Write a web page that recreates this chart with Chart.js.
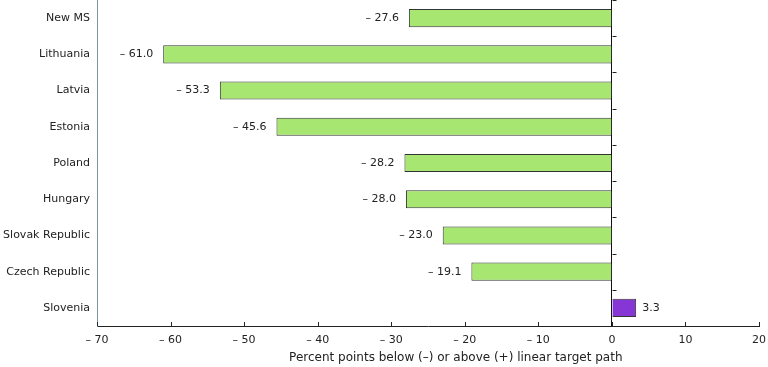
<!DOCTYPE html>
<html>
<head>
<meta charset="utf-8">
<script src="https://cdn.jsdelivr.net/npm/chart.js@4"></script>
<style>
  html, body { margin: 0; padding: 0; background: #fff; }
  #wrap { width: 768px; height: 367px; }
</style>
</head>
<body>
<div id="wrap"><canvas id="grafico"></canvas></div>
<script>
const paises = ["New MS", "Lithuania", "Latvia", "Estonia", "Poland", "Hungary", "Slovak Republic", "Czech Republic", "Slovenia"];
const valores = [-27.6, -61.0, -53.3, -45.6, -28.2, -28.0, -23.0, -19.1, 3.3];
const cores = ["#a8e672", "#a8e672", "#a8e672", "#a8e672", "#a8e672", "#a8e672", "#a8e672", "#a8e672", "#8536d4"];
const eixoMin = -70;
const eixoMax = 20;
const tituloEixo = "Percent points below (\u2013) or above (+) linear target path";

const fonte = "'DejaVu Sans', Verdana, sans-serif";

function formata(v, casas) {
    let t = Math.abs(v).toFixed(casas);
    return v < 0 ? "\u2013 " + t : t;
}

// rotulos dos valores ao lado das barras + titulo do eixo x
const rotulos = {
    id: "rotulos",
    afterDatasetsDraw(chart) {
        const ctx = chart.ctx;
        const meta = chart.getDatasetMeta(0);
        ctx.save();
        ctx.font = "11px " + fonte;
        ctx.fillStyle = "#222";
        ctx.textBaseline = "middle";
        meta.data.forEach((barra, i) => {
            const v = valores[i];
            if (v < 0) {
                ctx.textAlign = "right";
                ctx.fillText(formata(v, 1), barra.x - 10, barra.y);
            } else {
                ctx.textAlign = "left";
                ctx.fillText(formata(v, 1), barra.x + 6, barra.y);
            }
        });
        const area = chart.chartArea;
        ctx.font = "12px " + fonte;
        ctx.textAlign = "center";
        ctx.fillText(tituloEixo, area.left + (area.right - area.left) * 0.542, 358);
        ctx.restore();
    }
};

// marcas pequenas do eixo x (para cima) e da linha zero
const marcas = {
    id: "marcas",
    afterDraw(chart) {
        const ctx = chart.ctx;
        const x = chart.scales.x;
        const y = chart.scales.y;
        const area = chart.chartArea;
        ctx.save();
        ctx.strokeStyle = "#222";
        ctx.lineWidth = 1;
        ctx.beginPath();
        x.ticks.forEach(t => {
            const px = Math.round(x.getPixelForValue(t.value)) + 0.5;
            ctx.moveTo(px, area.bottom);
            ctx.lineTo(px, area.bottom - 4);
        });
        const x0 = Math.round(x.getPixelForValue(0)) + 0.5;
        for (let i = 0; i <= paises.length; i++) {
            const py = Math.round(y.getPixelForValue(i - 0.5)) + 0.5;
            ctx.moveTo(x0, py);
            ctx.lineTo(x0 + 4, py);
        }
        ctx.stroke();
        ctx.restore();
    }
};

const grafico = new Chart(document.getElementById("grafico"), {
    type: "bar",
    data: {
        labels: paises,
        datasets: [{
            data: valores,
            backgroundColor: cores,
            borderColor: "#333",
            borderWidth: 1,
            barPercentage: 0.5,
            categoryPercentage: 1.0
        }]
    },
    options: {
        indexAxis: "y",
        responsive: true,
        maintainAspectRatio: false,
        animation: false,
        layout: { padding: { top: 0, right: 9, bottom: 3, left: 0 } },
        plugins: {
            legend: { display: false },
            tooltip: { enabled: false }
        },
        scales: {
            x: {
                min: eixoMin,
                max: eixoMax,
                ticks: {
                    stepSize: 10,
                    color: "#222",
                    font: { family: fonte, size: 11 },
                    padding: 8,
                    callback: v => formata(v, 0)
                },
                grid: {
                    drawTicks: false,
                    color: c => (c.tick && c.tick.value === 0) ? "#111" : "rgba(0,0,0,0)"
                },
                border: { color: "#222", width: 1 },
                afterFit: s => { s.height = 38; s.paddingLeft = 0; s.paddingRight = 0; }
            },
            y: {
                ticks: {
                    color: "#222",
                    font: { family: fonte, size: 11 },
                    padding: 7
                },
                grid: { display: false, drawTicks: false },
                border: { color: "#7896a6", width: 1 },
                afterFit: s => { s.width = 97; s.paddingTop = 0; s.paddingBottom = 0; }
            }
        }
    },
    plugins: [rotulos, marcas]
});
</script>
</body>
</html>
